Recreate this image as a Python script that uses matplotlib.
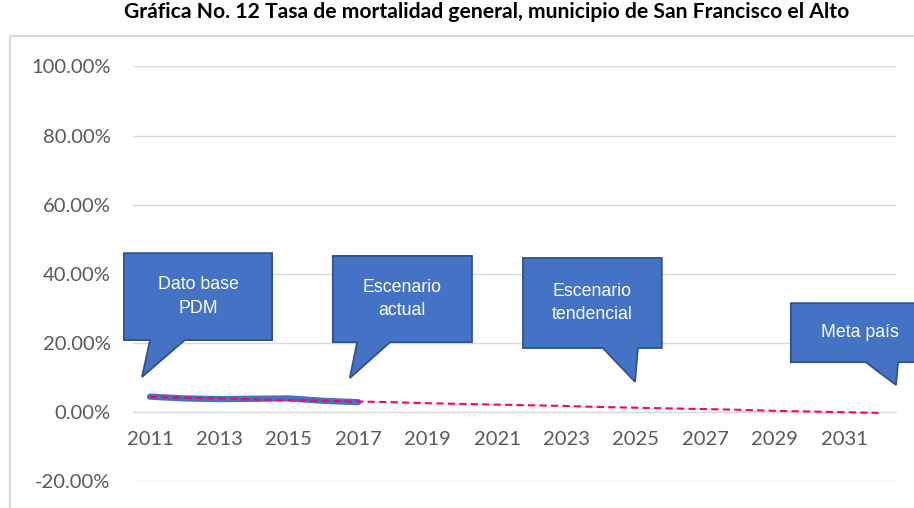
import matplotlib.pyplot as plt
import matplotlib.patches as mpatches
from matplotlib.ticker import FuncFormatter

# Tasa de mortalidad general (%), San Francisco el Alto
years = list(range(2011, 2033))
actual_years = [2011, 2012, 2013, 2014, 2015, 2016, 2017]
actual_rate = [4.3, 3.8, 3.6, 3.7, 3.8, 3.1, 2.7]
trend_rate = [4.2, 4.0, 3.8, 3.5, 3.3, 3.1, 2.9, 2.7, 2.4, 2.2, 2.0,
              1.8, 1.6, 1.3, 1.1, 0.9, 0.7, 0.5, 0.2, 0.0, -0.2, -0.4]
tick_years = years[::2]
y_ticks = [-20, 0, 20, 40, 60, 80, 100]

# globos: texto, caja (x0, x1, y0, y1), base de la punta (xa, xb), punta (x, y)
callouts = [
    ("Dato base\nPDM", (2010.25, 2014.52, 20.7, 45.9), (2011.0, 2012.0), (2010.77, 10.0)),
    ("Escenario\nactual", (2016.27, 2020.28, 20.1, 45.1), (2016.97, 2017.92), (2016.76, 9.7)),
    ("Escenario\ntendencial", (2021.75, 2025.75, 18.4, 44.5), (2024.05, 2025.06), (2024.98, 8.6)),
    ("Meta país", (2029.47, 2033.6, 14.3, 31.4), (2031.63, 2032.56), (2032.5, 7.7)),
]

fig = plt.figure(figsize=(9.14, 5.08), dpi=100)
ax = fig.add_axes([0.1451, 0.0541, 0.8352, 0.8150])

# marco del área del gráfico
fig.patches.append(mpatches.Rectangle((0.011, -0.1), 1.2, 1.029, transform=fig.transFigure,
                                      fill=False, edgecolor='#D9D9D9', linewidth=1.5))

ax.plot(actual_years, actual_rate, color='#4472C4', linewidth=4.5, solid_capstyle='round', zorder=3)
ax.plot(years, trend_rate, color='#FF0066', linewidth=1.5, dashes=(3.5, 2), zorder=4)

ax.set_xlim(2010.5, 2032.5)
ax.set_ylim(-20, 100)
ax.set_yticks(y_ticks)
ax.yaxis.set_major_formatter(FuncFormatter(lambda v, p: f"{v:.2f}%"))
ax.set_xticks(tick_years)
ax.set_xticklabels([str(y) for y in tick_years])
ax.grid(axis='y', color='#D9D9D9', linewidth=1)
ax.set_axisbelow(True)

for side in ['top', 'right', 'left']:
    ax.spines[side].set_visible(False)
ax.spines['bottom'].set_position(('data', 0))
ax.spines['bottom'].set_color('#D9D9D9')
ax.tick_params(axis='both', length=0, labelcolor='#595959', labelsize=14.5)
ax.tick_params(axis='x', pad=14)
ax.tick_params(axis='y', pad=16)
for lab in ax.get_xticklabels() + ax.get_yticklabels():
    lab.set_family('Lato')

for text, (x0, x1, y0, y1), (xa, xb), (tx, ty) in callouts:
    shape = [(x0, y1), (x1, y1), (x1, y0), (xb, y0), (tx, ty), (xa, y0), (x0, y0)]
    ax.add_patch(mpatches.Polygon(shape, closed=True, facecolor='#4472C4', edgecolor='#2F528F',
                                  linewidth=1.3, clip_on=False, zorder=5))
    cx = (x0 + x1) / 2 if x1 < 2033 else x0 + 2.0
    ax.text(cx, (y0 + y1) / 2, text, color='white', fontsize=12.8, family='Liberation Sans',
            ha='center', va='center', linespacing=1.5, zorder=6)

fig.text(0.532, 0.976, "Gráfica No. 12 Tasa de mortalidad general, municipio de San Francisco el Alto",
         ha='center', va='center', fontsize=15.2, fontweight='bold', family='Lato')

fig.savefig('out.png', dpi=100)
